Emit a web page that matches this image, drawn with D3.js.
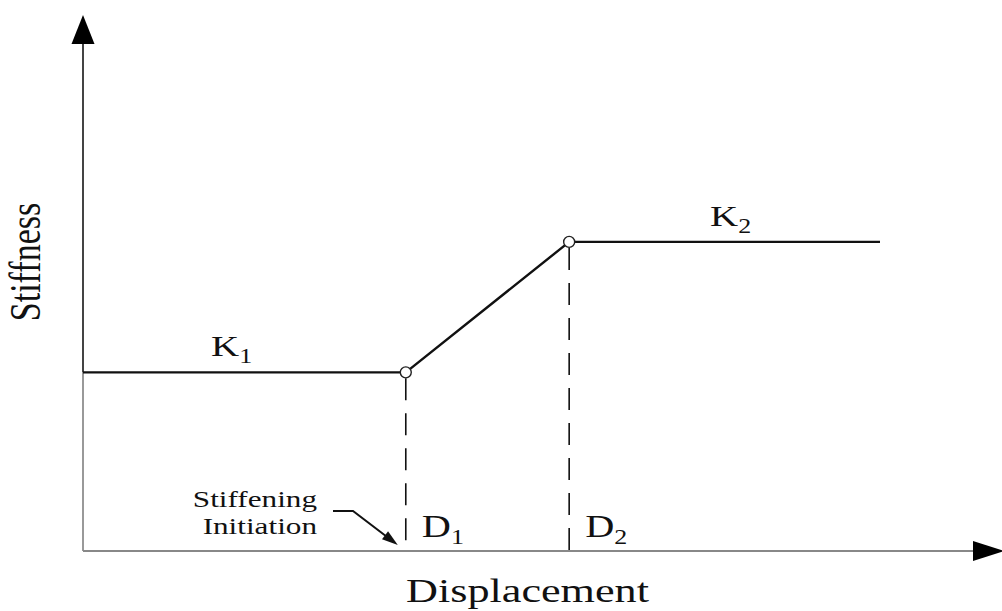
<!DOCTYPE html>
<html>
<head>
<meta charset="utf-8">
<script src="https://cdn.jsdelivr.net/npm/d3@7"></script>
<style>
  body { margin: 0; background: #fff; }
  text { font-family: "Liberation Serif", "Times New Roman", serif; fill: #111; }
</style>
</head>
<body>
<div id="chart-area"></div>
<script>
// Data (displacement / stiffness units)
var curveD = [0, 4.05, 6.1, 10];
var curveK = [1, 1, 1.73, 1.73];
var breakD = [4.05, 6.1];          // D1, D2
var breakK = [1, 1.73];
var breakLabels = ["D", "D"];
var breakSubs = ["1", "2"];
var segLabels = ["K", "K"];
var segSubs = ["1", "2"];
var segLabelD = [1.62, 7.88];      // where K labels start
var segLabelK = [1, 1.73];

var width = 1002, height = 611;
var sx = 1.3; // the figure is stretched horizontally

var svg = d3.select("#chart-area").append("svg")
    .attr("width", width)
    .attr("height", height);

// Scales
var x = d3.scaleLinear().domain([0, 10]).range([83, 880]);
var y = d3.scaleLinear().domain([0, 3]).range([551, 15]);

var x0 = x(0), y0 = y(0);

// Axes: plain lines with arrowheads
svg.append("line")
    .attr("x1", x0).attr("x2", x0)
    .attr("y1", y(curveK[0])).attr("y2", y0)
    .attr("stroke", "#999").attr("stroke-width", 2);
svg.append("line")
    .attr("x1", x0).attr("x2", x0)
    .attr("y1", 44).attr("y2", y(curveK[0]))
    .attr("stroke", "#444").attr("stroke-width", 2);
svg.append("path")
    .attr("d", "M" + x0 + ",15 L" + (x0 + 11.5) + ",44 L" + (x0 - 11.5) + ",44 Z")
    .attr("fill", "#000");

svg.append("line")
    .attr("x1", x0).attr("x2", 975)
    .attr("y1", y0).attr("y2", y0)
    .attr("stroke", "#888").attr("stroke-width", 2.2);
svg.append("path")
    .attr("d", "M1004," + y0 + " L973," + (y0 - 10) + " L973," + (y0 + 10) + " Z")
    .attr("fill", "#000");

// Dashed drop lines at D1 and D2
breakD.forEach(function(d, i) {
    svg.append("line")
        .attr("x1", x(d)).attr("x2", x(d))
        .attr("y1", y(breakK[i]) + 6).attr("y2", y0)
        .attr("stroke", "#111").attr("stroke-width", 1.6)
        .attr("stroke-dasharray", "22,13");
});

// Stiffness curve
var line = d3.line()
    .x(function(d, i) { return x(curveD[i]); })
    .y(function(d, i) { return y(curveK[i]); });
svg.append("path")
    .attr("d", line(curveD))
    .attr("fill", "none")
    .attr("stroke", "#111")
    .attr("stroke-width", 2.4);

// Break points
svg.selectAll("circle.break")
    .data(breakD)
    .enter().append("circle")
    .attr("class", "break")
    .attr("cx", function(d) { return x(d); })
    .attr("cy", function(d, i) { return y(breakK[i]); })
    .attr("r", 5.5)
    .attr("fill", "#fff")
    .attr("stroke", "#222")
    .attr("stroke-width", 1.4);

// Helper for stretched text with subscript
function label(px, py, main, sub, size, subSize, subDy) {
    var t = svg.append("text")
        .attr("transform", "translate(" + px + "," + py + ") scale(" + sx + ",1)")
        .attr("font-size", size);
    t.append("tspan").text(main);
    if (sub) {
        t.append("tspan")
            .attr("font-size", subSize)
            .attr("dy", subDy)
            .text(sub);
    }
    return t;
}

// K labels
segLabels.forEach(function(s, i) {
    label(x(segLabelD[i]) - 1, y(segLabelK[i]) - 16, s, segSubs[i], 30, 20, 7);
});

// D labels
breakD.forEach(function(d, i) {
    label(x(d) + 16, 537, breakLabels[i], breakSubs[i], 31, 20, 7);
});

// Axis titles
svg.append("text")
    .attr("transform", "translate(" + ((407 + 648) / 2) + ",602) scale(" + sx + ",1)")
    .attr("text-anchor", "middle")
    .attr("font-size", 34)
    .text("Displacement");

svg.append("text")
    .attr("transform", "translate(40,262) scale(" + sx + ",1) rotate(-90)")
    .attr("text-anchor", "middle")
    .attr("font-size", 34)
    .text("Stiffness");

// Stiffening initiation annotation
var ann = svg.append("g").attr("transform", "translate(317,0) scale(" + sx + ",1)");
ann.append("text").attr("y", 507).attr("text-anchor", "end").attr("font-size", 24).text("Stiffening");
ann.append("text").attr("y", 534).attr("text-anchor", "end").attr("font-size", 24).text("Initiation");

var tipX = x(breakD[0]) - 8, tipY = y0 - 6;
svg.append("path")
    .attr("d", "M333,511 L353,511 L" + (tipX - 8) + "," + (tipY - 6))
    .attr("fill", "none")
    .attr("stroke", "#111")
    .attr("stroke-width", 2);
// arrowhead along the diagonal
var ang = Math.atan2(tipY - 511, tipX - 353);
var len = 16, hw = 5;
var bx = tipX - len * Math.cos(ang), by = tipY - len * Math.sin(ang);
svg.append("path")
    .attr("d", "M" + tipX + "," + tipY +
        " L" + (bx - hw * Math.sin(ang)) + "," + (by + hw * Math.cos(ang)) +
        " L" + (bx + hw * Math.sin(ang)) + "," + (by - hw * Math.cos(ang)) + " Z")
    .attr("fill", "#111");
</script>
</body>
</html>
